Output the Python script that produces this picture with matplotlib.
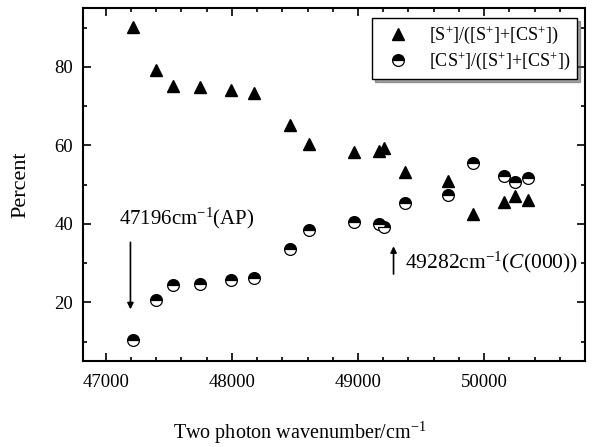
import matplotlib
matplotlib.use("Agg")
import matplotlib.pyplot as plt
from matplotlib.ticker import MultipleLocator

# wavenumbers (cm^-1)
wn = [47214, 47400, 47537, 47745, 47995, 48178, 48463, 48611, 48971,
      49163, 49205, 49375, 49711, 49909, 50155, 50243, 50346]
# [S+]/([S+]+[CS+]) in percent
s_frac = [90.1, 79.2, 75.1, 74.9, 74.0, 73.3, 65.3, 60.3, 58.3,
          58.6, 59.3, 53.2, 50.8, 42.6, 45.6, 47.1, 46.2]
# [CS+]/([S+]+[CS+]) in percent
cs_frac = [10.3, 20.7, 24.5, 24.7, 25.6, 26.2, 33.7, 38.5, 40.4,
           40.0, 39.3, 45.3, 47.4, 55.6, 52.3, 50.6, 51.7]

serif = "Liberation Serif"
plt.rcParams["mathtext.fontset"] = "custom"
plt.rcParams["mathtext.rm"] = serif
plt.rcParams["mathtext.it"] = serif + ":italic"
plt.rcParams["mathtext.bf"] = serif + ":bold"

fig = plt.figure(figsize=(5.93, 4.47), dpi=100)
ax = fig.add_axes([0.140, 0.192, 0.8465, 0.790])

ax.plot(wn, s_frac, linestyle="none", marker="^", ms=9, color="black",
        label=r"[S$^{+}$]/([S$^{+}$]+[CS$^{+}$])")
ax.plot(wn, cs_frac, linestyle="none", marker="o", ms=8.5, fillstyle="top",
        markerfacecolor="black", markerfacecoloralt="white",
        markeredgecolor="black", markeredgewidth=0.9,
        label=r"[CS$^{+}$]/([S$^{+}$]+[CS$^{+}$])")

ax.set_xlim(46820, 50800)
ax.set_ylim(5, 95)
ax.xaxis.set_major_locator(MultipleLocator(1000))
ax.xaxis.set_minor_locator(MultipleLocator(200))
ax.yaxis.set_major_locator(MultipleLocator(20))
ax.yaxis.set_minor_locator(MultipleLocator(10))
ax.tick_params(which="both", direction="in", top=True, right=True, width=1.2)
ax.tick_params(which="major", length=6)
ax.tick_params(which="minor", length=3)
ax.tick_params(axis="x", pad=9)
ax.tick_params(axis="y", pad=7)
for lab in ax.get_xticklabels() + ax.get_yticklabels():
    lab.set_fontfamily(serif)
    lab.set_fontsize(13.5)
for sp in ax.spines.values():
    sp.set_linewidth(1.5)

fig.text(0.035, 1 - 185 / 447, "Percent", family=serif, fontsize=16,
         rotation=90, ha="center", va="center")
fig.text(0.505, 1 - 433 / 447, r"Two photon wavenumber/cm$^{-1}$",
         family=serif, fontsize=14.5, ha="center", va="center")

ax.annotate("", xy=(47196, 17.5), xytext=(47196, 36),
            arrowprops=dict(arrowstyle="-|>", color="black", lw=1.2,
                            mutation_scale=9))
ax.text(47105, 41.5, r"47196cm$^{-1}$(AP)", family=serif, fontsize=15,
        ha="left", va="center")
ax.annotate("", xy=(49282, 35), xytext=(49282, 26.5),
            arrowprops=dict(arrowstyle="-|>", color="black", lw=1.2,
                            mutation_scale=9))
ax.text(49370, 30.3, r"49282cm$^{-1}$($C$(000))", family=serif, fontsize=15.5,
        ha="left", va="center")

leg = ax.legend(loc="upper right", bbox_to_anchor=(0.984, 0.972),
                borderaxespad=0, prop={"family": serif, "size": 13},
                fancybox=False, shadow=True, framealpha=1, edgecolor="black",
                handletextpad=0.6, handlelength=2.2, borderpad=0.35,
                labelspacing=0.25)
leg.get_frame().set_linewidth(1.0)

fig.savefig("out.png", dpi=100)
